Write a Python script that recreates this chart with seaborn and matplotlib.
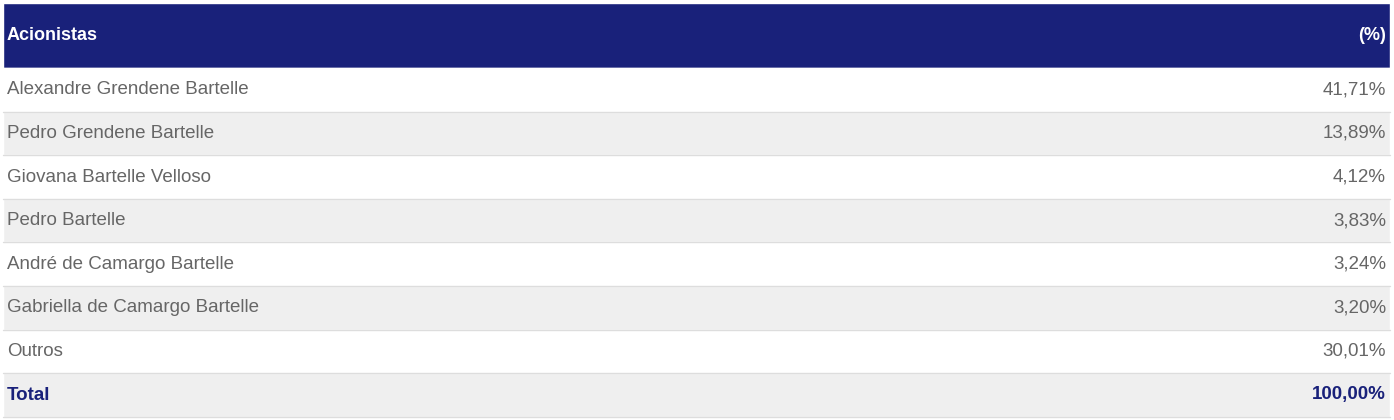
import seaborn as sns
import matplotlib.pyplot as plt

header = ["Acionistas", "(%)"]
acionistas = ["Alexandre Grendene Bartelle", "Pedro Grendene Bartelle",
              "Giovana Bartelle Velloso", "Pedro Bartelle",
              "André de Camargo Bartelle", "Gabriella de Camargo Bartelle",
              "Outros"]
percentuais = ["41,71%", "13,89%", "4,12%", "3,83%", "3,24%", "3,20%", "30,01%"]
total_label = "Total"
total_valor = "100,00%"

sns.set_style("white")
plt.rcParams['font.family'] = ['Liberation Sans', 'DejaVu Sans']

navy = "#19217a"
grey_text = "#666666"

fig = plt.figure(figsize=(13.94, 4.2), dpi=100)
ax = fig.add_axes([0, 0, 1, 1])
ax.set_xlim(0, 1394)
ax.set_ylim(420, 0)
ax.axis("off")

left, width = 3, 1387
top_h, row_h = 65, 43.6
y0 = 3

# header
ax.barh(y0 + top_h / 2, width, height=top_h, left=left, color=navy)
ax.text(left + 4, y0 + top_h / 2, header[0], color="white", fontsize=13,
        fontweight="bold", va="center", ha="left")
ax.text(left + width - 4, y0 + top_h / 2, header[1], color="white", fontsize=13,
        fontweight="bold", va="center", ha="right")

names = acionistas + [total_label]
values = percentuais + [total_valor]
for i, (n, v) in enumerate(zip(names, values)):
    yc = y0 + top_h + row_h * i + row_h / 2
    bg = "white" if i % 2 == 0 else "#efefef"
    ax.barh(yc, width, height=row_h, left=left, color=bg)
    ax.axhline(yc + row_h / 2, xmin=left / 1394, xmax=(left + width) / 1394,
               color="#dddddd", lw=1)
    is_total = n == total_label
    col = navy if is_total else grey_text
    fw = "bold" if is_total else "normal"
    ax.text(left + 4, yc, n, color=col, fontsize=13.5, fontweight=fw,
            va="center", ha="left")
    ax.text(left + width - 4, yc, v, color=col, fontsize=13.5, fontweight=fw,
            va="center", ha="right")

fig.savefig("out.png", dpi=100)
